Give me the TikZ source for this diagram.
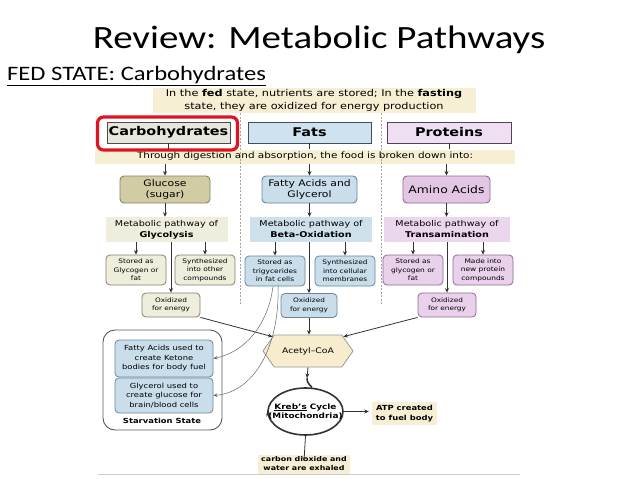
\documentclass[tikz,border=0pt]{standalone}
\usepackage{fontspec}
\setmainfont{DejaVu Sans}[FakeStretch=1.2]
\newfontfamily\calib{Carlito}[FakeStretch=1.2]
\usetikzlibrary{shapes.geometric,shapes.symbols,arrows.meta,calc}
\definecolor{bannerc}{HTML}{F7EFD4}
\definecolor{carbtop}{HTML}{E6E6DC}
\definecolor{fattop}{HTML}{CFE2EF}
\definecolor{prottop}{HTML}{EEE0F2}
\definecolor{glucc}{HTML}{D2CCA4}
\definecolor{glucb}{HTML}{85826A}
\definecolor{fatc}{HTML}{C9DDEB}
\definecolor{fatb}{HTML}{6A8698}
\definecolor{aminoc}{HTML}{E3C6E4}
\definecolor{aminob}{HTML}{8C6C8D}
\definecolor{glyc}{HTML}{EFEEDC}
\definecolor{betac}{HTML}{CDE0EC}
\definecolor{transc}{HTML}{ECD6ED}
\definecolor{psub}{HTML}{E9D0EB}
\definecolor{acetc}{HTML}{F7ECCD}
\definecolor{redc}{HTML}{E0141E}
\definecolor{linec}{HTML}{333333}
\begin{document}
\begin{tikzpicture}[x=1pt,y=-1pt,
  box/.style={inner sep=0pt, align=center},
  topbox/.style={box, draw=#1!60!black, line width=0.9pt, minimum height=21pt, font=\bfseries\fontsize{12}{14}\selectfont},
  mainbox/.style={box, rounded corners=4pt, line width=0.9pt, minimum height=27pt, font=\fontsize{9}{11}\selectfont},
  pathbox/.style={box, minimum height=25pt, font=\fontsize{8}{11}\selectfont},
  subbox/.style={box, rounded corners=4pt, line width=0.8pt, minimum width=60pt, minimum height=30pt, font=\fontsize{6.2}{8.4}\selectfont},
  oxbox/.style={box, rounded corners=4pt, line width=0.8pt, minimum height=24pt, font=\fontsize{6.1}{8.6}\selectfont},
  bannerbox/.style={box, fill=bannerc},
  arr/.style={draw=linec, line width=0.8pt, -{Stealth[length=4.5pt,width=4pt]}},
  thinarr/.style={draw=gray!80!black, line width=0.5pt, -{Stealth[length=4pt,width=3.5pt]}},
]
\useasboundingbox (0,0) rectangle (638,479);
\fill[white] (0,0) rectangle (638,479);

% titles
\node[anchor=base, font=\calib\fontsize{32.5}{38}\selectfont] (title) at (319,48) {Review: Metabolic Pathways};
\node[anchor=base west, inner sep=0pt, font=\calib\fontsize{20.5}{24}\selectfont] (fed) at (7,80) {\underline{FED STATE: Carbohydrates}};

% banners
\node[bannerbox, minimum width=323pt, minimum height=25pt, font=\fontsize{9.4}{12.5}\selectfont] (banner1) at (314,100.5)
  {In the \textbf{fed} state, nutrients are stored; In the \textbf{fasting}\\state, they are oxidized for energy production};
\node[bannerbox, minimum width=420pt, minimum height=14pt, font=\fontsize{8.7}{10}\selectfont] (banner2) at (305,156.5)
  {Through digestion and absorption, the food is broken down into:};

% top boxes
\node[topbox=gray, fill=carbtop, minimum width=123pt] (carb) at (168.5,132.5) {Carbohydrates};
\node[topbox=fatb, fill=fattop, minimum width=123pt] (fats) at (309.5,132.5) {Fats};
\node[topbox=aminob, fill=prottop, minimum width=124pt] (prot) at (449,132.5) {Proteins};
\node[draw=redc, line width=3.2pt, rounded corners=6pt, minimum width=140pt, minimum height=33pt, inner sep=0pt] (redbox) at (167.5,133.5) {};

\foreach \n in {carb,fats,prot}
  \draw[linec, line width=0.7pt] (\n.south) -- (\n.south |- banner2.north);

% separators
\draw[gray!70, dashed, dash pattern=on 2pt off 1.5pt, line width=0.7pt] (240,113) -- (240,305);
\draw[gray!70, dashed, dash pattern=on 2pt off 1.5pt, line width=0.7pt] (381,113) -- (381,305);

% second row
\node[mainbox, draw=glucb, fill=glucc, minimum width=90pt] (glucose) at (165,189.5) {Glucose\\(sugar)};
\node[mainbox, draw=fatb, fill=fatc, minimum width=95pt] (fatty) at (309.5,189.5) {Fatty Acids and\\Glycerol};
\node[mainbox, draw=aminob, fill=aminoc, minimum width=87pt, font=\fontsize{10.3}{12}\selectfont] (amino) at (446.5,189.5) {Amino Acids};
\foreach \n in {glucose,fatty,amino}
  \draw[arr] (\n.north |- banner2.south) -- (\n.north);

% pathway boxes
\node[pathbox, fill=glyc, minimum width=122pt] (glycol) at (166.5,229.5) {Metabolic pathway of\\\textbf{Glycolysis}};
\node[pathbox, fill=betac, minimum width=122pt] (beta) at (311,229.5) {Metabolic pathway of\\\textbf{Beta-Oxidation}};
\node[pathbox, fill=transc, minimum width=126pt] (trans) at (447,229.5) {Metabolic pathway of\\\textbf{Transamination}};
\draw[arr] (glucose) -- (glucose.south |- glycol.north);
\draw[arr] (fatty) -- (fatty.south |- beta.north);
\draw[arr] (amino) -- (amino.south |- trans.north);

% sub boxes
\node[subbox, draw=glucb, fill=glyc] (cstore) at (136,270) {Stored as\\Glycogen or\\fat};
\node[subbox, draw=glucb, fill=glyc] (csynth) at (205,270) {Synthesized\\into other\\compounds};
\node[subbox, draw=fatb, fill=fatc] (fstore) at (275,271) {Stored as\\trigycerides\\in fat cells};
\node[subbox, draw=fatb, fill=fatc] (fsynth) at (345,271) {Synthesized\\into cellular\\membranes};
\node[subbox, draw=aminob, fill=psub] (pstore) at (413,270) {Stored as\\glycogen or\\fat};
\node[subbox, draw=aminob, fill=psub] (pmade) at (483,270) {Made into\\new protein\\compounds};
\foreach \p/\s in {glycol/cstore, glycol/csynth, beta/fstore, beta/fsynth, trans/pstore, trans/pmade}
  \draw[arr] (\s.north |- \p.south) -- (\s.north);

% oxidized boxes
\node[oxbox, draw=glucb, fill=glyc, minimum width=58pt] (coxid) at (171,305) {Oxidized\\for energy};
\node[oxbox, draw=fatb, fill=fatc, minimum width=56pt] (foxid) at (309,305.5) {Oxidized\\for energy};
\node[oxbox, draw=aminob, fill=psub, minimum width=58pt] (poxid) at (447,305) {Oxidized\\for energy};
\draw[arr] (coxid.north |- glycol.south) -- (coxid.north);
\draw[arr] (foxid.north |- beta.south) -- (foxid.north);
\draw[arr] (poxid.north |- trans.south) -- (poxid.north);

% acetyl-CoA
\node[signal, signal to=west and east, signal pointer angle=110, draw=gray!80, line width=0.8pt, fill=acetc,
  minimum width=90pt, minimum height=32pt, inner sep=0pt, font=\fontsize{7.7}{9}\selectfont] (acetyl) at (308,351) {Acetyl--CoA};
\draw[arr] (coxid.south east) -- (acetyl.158);
\draw[arr] (foxid.south) -- (foxid.south |- acetyl.north);
\draw[arr] (poxid.south west) -- (acetyl.22);

% starvation
\node[draw=gray!70!black, line width=0.9pt, rounded corners=12pt, minimum width=119pt, minimum height=100pt, inner sep=0pt] (starv) at (162.5,380) {};
\node[box, draw=fatb, fill=fatc, rounded corners=4pt, line width=0.8pt, minimum width=98pt, minimum height=37pt, font=\fontsize{7}{9.5}\selectfont] (ketone) at (164,358.5)
  {Fatty Acids used to\\create Ketone\\bodies for body fuel};
\node[box, draw=fatb, fill=fatc, rounded corners=4pt, line width=0.8pt, minimum width=98pt, minimum height=35pt, font=\fontsize{7}{9.5}\selectfont] (glycer) at (164,395.5)
  {Glycerol used to\\create glucose for\\brain/blood cells};
\node[box, font=\bfseries\fontsize{7}{9}\selectfont] (starvlbl) at (162,421) {Starvation State};

\coordinate (c1) at ($(fstore.south)+(-2,0)$);
\coordinate (c2) at ($(fstore.south)+(3,-1)$);
\draw[thinarr] (c1) .. controls (268,325) and (245,352) .. (ketone.east);
\draw[thinarr] (c2) .. controls (280,345) and (255,392) .. (glycer.east);

% Krebs cycle
\node[ellipse, draw=linec, line width=1.6pt, fill=white, minimum width=75pt, minimum height=47pt, inner sep=0pt] (kreb) at (305.5,411.5) {};
\node[box, font=\bfseries\fontsize{7.4}{9.5}\selectfont] (krebtxt) at (kreb.center) {\underline{Kreb's} Cycle\\(Mitochondria)};
\coordinate (kin) at (307,378);
\draw[arr] (acetyl.south) -- (kin);
\draw[linec, line width=1.5pt] (kin) .. controls (307,385) and (312,386) .. (kreb.75);
\draw[line width=0.1pt, -{Stealth[length=6pt,width=5pt]}, linec] (kreb.195) -- (kreb.178);

\node[bannerbox, minimum width=65pt, minimum height=23pt, font=\bfseries\fontsize{7}{10}\selectfont] (atp) at (404.5,413.5) {ATP created\\to fuel body};
\node[bannerbox, minimum width=92pt, minimum height=19pt, font=\bfseries\fontsize{6.6}{9}\selectfont] (co2) at (304,464) {carbon dioxide and\\water are exhaled};
\draw[arr] (kreb.east) -- ([xshift=-3pt]atp.west |- kreb.east);
\draw[arr] (kreb.south) -- ([yshift=-7pt]co2.north);

\draw[gray!40, line width=1pt] (98,474) -- (520,474);
\end{tikzpicture}
\end{document}
